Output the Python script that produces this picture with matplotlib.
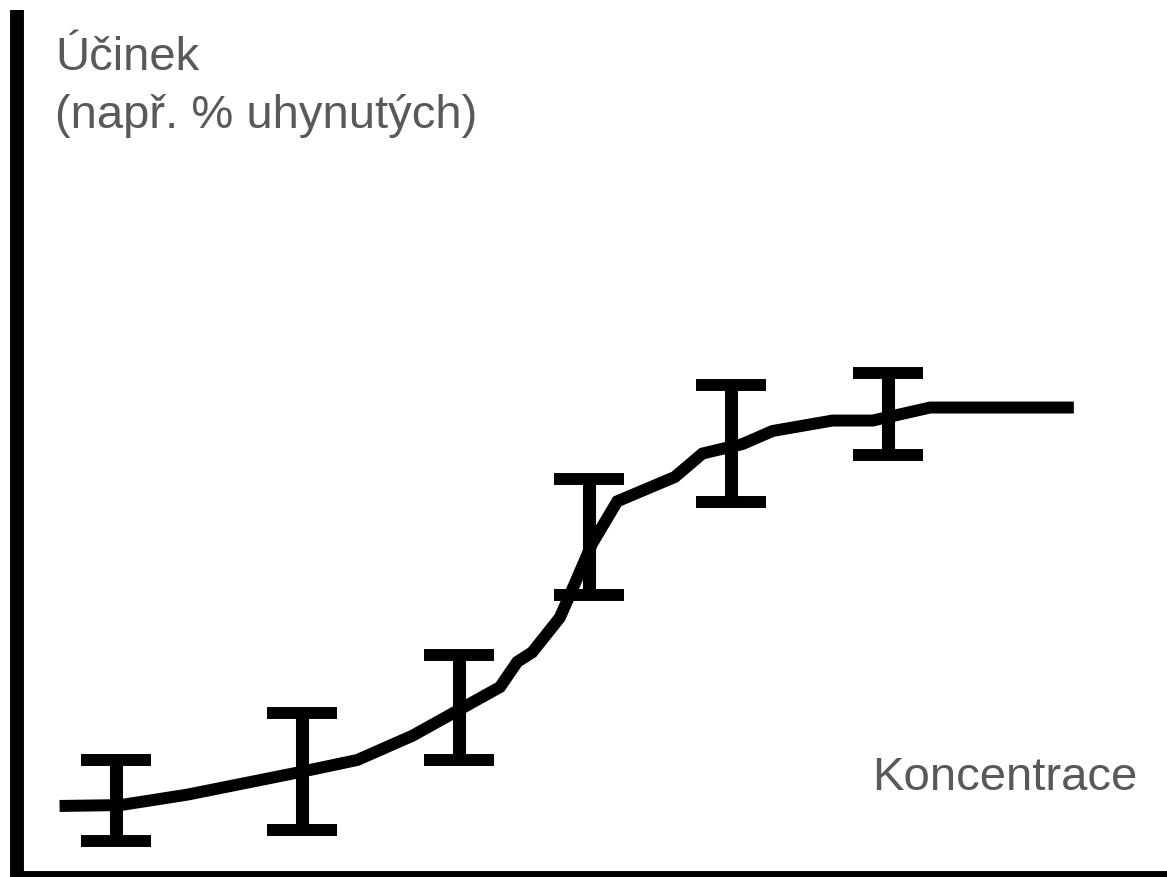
import matplotlib
matplotlib.use("Agg")
import matplotlib.pyplot as plt

# dose-response curve (concentration vs. effect, arbitrary units 0-100)
curve_x = [3.7, 9.0, 14.8, 24.6, 29.6, 34.4, 42.0, 43.5, 44.8, 47.2, 48.5, 50.0,
           52.2, 57.2, 59.6, 63.1, 65.7, 70.9, 74.4, 79.4, 91.9]
curve_y = [8.3, 8.4, 9.6, 12.2, 13.6, 16.4, 22.0, 24.9, 26.0, 30.0, 33.9, 38.5,
           43.4, 46.2, 48.9, 50.0, 51.5, 52.7, 52.7, 54.2, 54.2]

# error bars: position, upper and lower end
err_x = [8.6, 24.8, 38.4, 49.7, 62.1, 75.7]
err_hi = [13.6, 19.0, 25.7, 46.0, 56.8, 58.2]
err_lo = [4.3, 5.5, 13.6, 32.6, 43.3, 48.7]

err_mid = [(h + l) / 2 for h, l in zip(err_hi, err_lo)]
err_half = [(h - l) / 2 for h, l in zip(err_hi, err_lo)]

plt.rcParams['font.family'] = ['Liberation Sans', 'DejaVu Sans']

fig = plt.figure(figsize=(11.67, 8.78), dpi=100)
ax = fig.add_axes([17 / 1167, -1 / 878, 1150 / 1167, 868 / 878])

ax.plot(curve_x, curve_y, color='black', linewidth=8.6,
        solid_joinstyle='miter', solid_capstyle='butt')
ax.errorbar(err_x, err_mid, yerr=err_half, fmt='none', ecolor='black',
            elinewidth=9.4, capsize=25.5, capthick=8.6)

ax.set_xlim(0, 100)
ax.set_ylim(0, 100)
ax.set_xticks([])
ax.set_yticks([])
ax.spines['top'].set_visible(False)
ax.spines['right'].set_visible(False)
for side in ['left', 'bottom']:
    ax.spines[side].set_linewidth(10)
    ax.spines[side].set_capstyle('butt')

txt = dict(fontsize=34, color='#595959', va='baseline', ha='left')
fig.text(55 / 1167, 1 - 70 / 878, 'Účinek', **txt)
fig.text(55 / 1167, 1 - 128 / 878, '(např. % uhynutých)', **txt)
fig.text(872 / 1167, 1 - 790 / 878, 'Koncentrace', **txt)

fig.savefig('out.png', dpi=100)
